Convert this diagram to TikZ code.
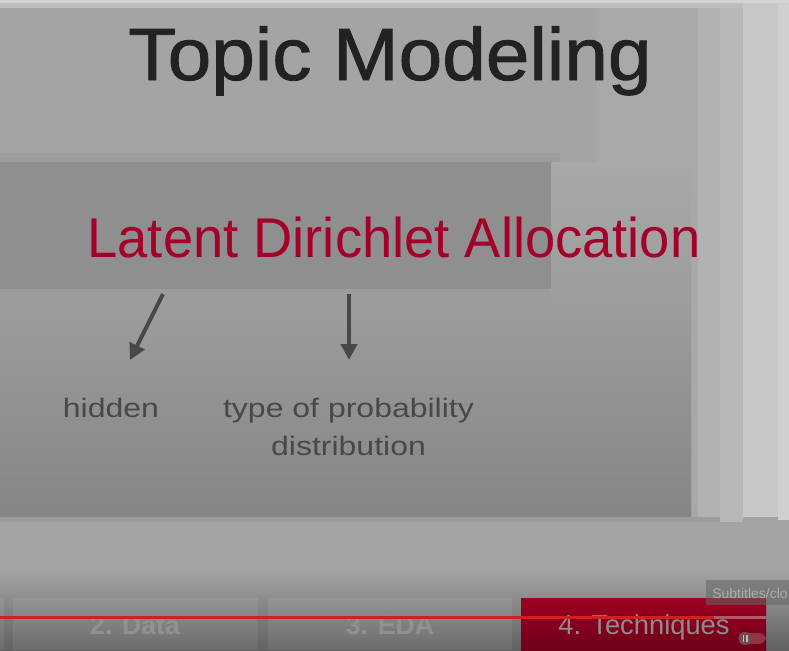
\documentclass[tikz,border=0pt]{standalone}
\usepackage{fontspec}
\setmainfont{Liberation Sans}
\newfontfamily\titlefont[FakeStretch=1.06,FakeBold=1.2]{Liberation Sans}
\newfontfamily\ldafont[FakeStretch=0.97]{Liberation Sans}
\newfontfamily\notefont[FakeStretch=1.2]{Liberation Sans}
\usetikzlibrary{arrows.meta}
\definecolor{screengray}{RGB}{164,164,164}
\definecolor{topstrip}{RGB}{212,212,212}
\definecolor{topstriptwo}{RGB}{190,190,190}
\definecolor{bandA}{RGB}{168,168,168}
\definecolor{bandB}{RGB}{178,178,178}
\definecolor{bandC}{RGB}{184,184,184}
\definecolor{bandD}{RGB}{200,200,200}
\definecolor{bandE}{RGB}{207,207,207}
\definecolor{stripgray}{RGB}{156,156,156}
\definecolor{boxdark}{RGB}{143,143,143}
\definecolor{boxtop}{RGB}{157,157,157}
\definecolor{boxbottom}{RGB}{133,133,133}
\definecolor{textdark}{RGB}{34,34,34}
\definecolor{notegray}{RGB}{72,72,72}
\definecolor{ldared}{RGB}{163,0,42}
\definecolor{chapred}{RGB}{158,0,34}
\definecolor{chapreddark}{RGB}{110,0,23}
\definecolor{progred}{RGB}{208,32,32}

\begin{document}
\begin{tikzpicture}[x=0.75pt,y=-0.75pt]
\useasboundingbox (0,0) rectangle (789,650);
% screen background
\fill[screengray] (0,0) rectangle (789,650);
\fill[bandA] (597,8) rectangle (698,522);
\fill[bandB] (698,0) rectangle (720,522);
\fill[bandC] (720,0) rectangle (743,522);
\fill[bandD] (743,0) rectangle (778,517);
\fill[bandE] (778,0) rectangle (789,520);
\fill[topstriptwo] (0,3) rectangle (743,8);
\fill[topstrip] (0,0) rectangle (789,3);
% slide boxes
\fill[stripgray] (0,153) rectangle (560,298);
\shade[top color=bandA,bottom color=boxbottom!95!white] (551,162) rectangle (691,517);
\shade[top color=boxtop,bottom color=boxbottom] (0,298) rectangle (691,517);
\fill[boxdark] (0,162) rectangle (551,289);
\fill[stripgray] (0,517) rectangle (720,522);
% player gradient at the bottom
\shade[top color=screengray,bottom color=black!62] (0,570) rectangle (789,650);
% title
\node[font=\titlefont\fontsize{55.5}{60}\selectfont,text=textdark,anchor=base,inner sep=0] (title) at (390,80) {Topic Modeling};
\node[font=\ldafont\fontsize{42}{46}\selectfont,text=ldared,anchor=base,inner sep=0] (lda) at (394,257) {Latent Dirichlet Allocation};
% notes below
\node[font=\notefont\fontsize{20}{28.5}\selectfont,text=notegray,anchor=base,inner sep=0] (hidden) at (111,417) {hidden};
\node[font=\notefont\fontsize{20}{28.5}\selectfont,text=notegray,anchor=north,inner sep=0,align=center] (probdist) at (348.5,398) {type of probability\\distribution};
% arrows
\coordinate (hstart) at (163,294);
\coordinate (hend) at (130,360);
\coordinate (pstart) at (349,294);
\coordinate (pend) at (349,360);
\draw[-{Triangle[length=12pt,width=12pt]},line width=3pt,notegray] (hstart) -- (hend);
\draw[-{Triangle[length=12pt,width=12pt]},line width=3pt,notegray] (pstart) -- (pend);
% chapter boxes
\fill[white,opacity=0.07] (-5,598) rectangle (4,650);
\fill[white,opacity=0.07] (13,598) rectangle (258,650);
\fill[white,opacity=0.07] (268,598) rectangle (512,650);
\shade[top color=chapred,bottom color=chapreddark] (521,598) rectangle (766,650);
\node[font=\bfseries\fontsize{20}{24}\selectfont,text=white!57!black,anchor=base,inner sep=0] (data) at (135,634) {2. Data};
\node[font=\bfseries\fontsize{20}{24}\selectfont,text=white!57!black,anchor=base,inner sep=0] (eda) at (390,634) {3. EDA};
\node[font=\fontsize{20.5}{24}\selectfont,text=white!55!black,anchor=base,inner sep=0] (tech) at (644,634) {4. Techniques};
% progress line
\fill[progred] (0,615.5) rectangle (714,619);
\fill[white,opacity=0.35] (714,615.5) rectangle (766,619);
% subtitles popup
\fill[black!60,opacity=0.55] (706,580) rectangle (789,605);
\node[font=\fontsize{10.5}{13}\selectfont,text=white!68!black,anchor=west,inner sep=0] (subs) at (712,593) {Subtitles/clo};
% toggle
\fill[chapred!60!gray,rounded corners=5.5] (739,633) rectangle (766,644);
\fill[black!45!chapred!40!gray] (745,638.5) circle (6.5);
\fill[white!45!gray] (742.5,635) rectangle (743.8,642);
\fill[white!45!gray] (746.2,635) rectangle (747.5,642);
\end{tikzpicture}
\end{document}
